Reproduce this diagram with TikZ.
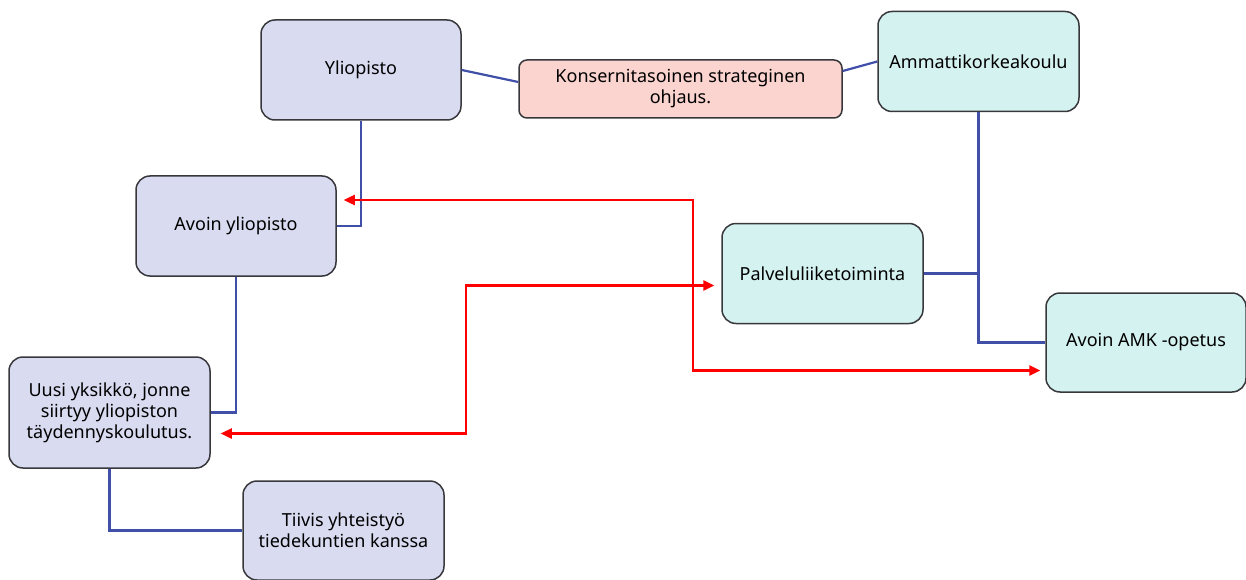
\documentclass[tikz,border=0pt]{standalone}
\usepackage{fontspec}
\setmainfont{Noto Sans}
\usetikzlibrary{arrows.meta,calc}
\definecolor{lav}{RGB}{217,220,241}
\definecolor{pinkf}{RGB}{251,212,207}
\definecolor{cyanf}{RGB}{212,242,240}
\definecolor{bord}{RGB}{55,55,60}
\definecolor{blueln}{RGB}{64,80,168}
\tikzset{
  box/.style={draw=bord, line width=1.5pt, rounded corners=14pt, align=center,
    font=\fontsize{18}{21}\selectfont, inner sep=0pt},
  lavbox/.style={box, fill=lav, minimum width=200pt, minimum height=100pt},
  cybox/.style={box, fill=cyanf, minimum width=201pt, minimum height=100pt},
  pkbox/.style={box, fill=pinkf, minimum width=323pt, minimum height=58pt, rounded corners=8pt},
  conn/.style={draw=blueln, line width=2.2pt},
  redarr/.style={draw=red, line width=2.4pt, {Triangle[length=11pt,width=10pt]}-{Triangle[length=11pt,width=10pt]}}
}
\begin{document}
\begin{tikzpicture}[x=1pt,y=-1pt]
\useasboundingbox (0,0) rectangle (1246,580);
\node[lavbox] (yl) at (361,70) {Yliopisto};
\node[pkbox] (ko) at (680.5,89) {Konsernitasoinen strateginen\\ohjaus.};
\node[cybox] (am) at (978.5,61.5) {Ammattikorkeakoulu};
\node[lavbox] (av) at (236,226) {Avoin yliopisto};
\node[cybox] (pa) at (822.5,273.5) {Palveluliiketoiminta};
\node[cybox, minimum width=200pt, minimum height=99pt] (ak) at (1146,342.5) {Avoin AMK -opetus};
\node[lavbox, minimum width=201pt, minimum height=111pt] (uu) at (109.5,412.5) {Uusi yksikkö, jonne\\siirtyy yliopiston\\täydennyskoulutus.};
\node[lavbox, minimum width=201pt, minimum height=99pt] (ti) at (343.5,530.5) {Tiivis yhteistyö\\tiedekuntien kanssa};
% blue connectors
\draw[conn] (yl.east) -- ([yshift=7pt]ko.west);
\draw[conn] ([yshift=18pt]ko.east) -- (am.west);
\draw[conn] (yl.south) |- (av.east);
\draw[conn] (av.south) |- (uu.east);
\draw[conn] (uu.south) |- (ti.west);
\draw[conn] (am.south) |- (ak.west);
\draw[conn] (pa.east) -- (pa.east -| am.south);
% red arrows
\coordinate (r1a) at ([xshift=7pt,yshift=26pt]av.east);
\coordinate (r1b) at ([xshift=-5pt,yshift=-28pt]ak.west);
\coordinate (r1m) at (693,200);
\draw[redarr] (r1a) -- (r1m |- r1a) |- (r1b);
\coordinate (r2a) at ([xshift=10pt,yshift=-21pt]uu.east);
\coordinate (r2b) at ([xshift=-7pt,yshift=-12pt]pa.west);
\coordinate (r2m) at (466,285);
\draw[redarr] (r2a) -| (r2m |- r2b) -- (r2b);
\end{tikzpicture}
\end{document}
